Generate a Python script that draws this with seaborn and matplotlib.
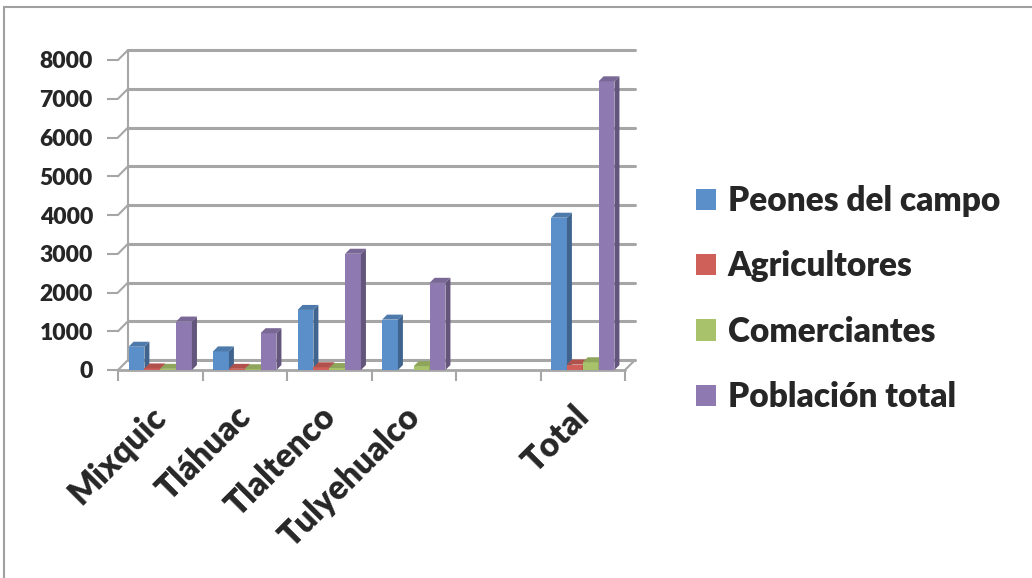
import numpy as np
import pandas as pd
import matplotlib
matplotlib.use('Agg')
import matplotlib.pyplot as plt
from matplotlib.patches import Polygon, Rectangle, Patch
from matplotlib.transforms import ScaledTranslation
import matplotlib.colors as mcolors
import seaborn as sns

# Datos
delegaciones = ['Mixquic', 'Tláhuac', 'Tlaltenco', 'Tulyehualco', '', 'Total']
peones = [600, 480, 1550, 1300, np.nan, 3930]
agricultores = [40, 30, 70, 0, np.nan, 140]
comerciantes = [30, 20, 50, 100, np.nan, 200]
poblacion = [1250, 950, 3000, 2250, np.nan, 7450]
series = ['Peones del campo', 'Agricultores', 'Comerciantes', 'Población total']
colores = ['#5B8FC9', '#CF5F59', '#A7C26B', '#8E79B1']
yticks = [0, 1000, 2000, 3000, 4000, 5000, 6000, 7000, 8000]

df = pd.DataFrame({
    'Delegación': delegaciones * 4,
    'Ocupación': np.repeat(series, len(delegaciones)),
    'Personas': peones + agricultores + comerciantes + poblacion,
}).dropna()

sns.set_style('white')
plt.rcParams['font.family'] = ['Lato', 'DejaVu Sans']
plt.rcParams['font.weight'] = 'bold'

W, H = 1032, 578
fig = plt.figure(figsize=(W / 100, H / 100), dpi=100)
ax = fig.add_axes([118 / W, 1 - 370 / H, (625 - 118) / W, (370 - 60) / H])

sns.barplot(data=df, x='Delegación', y='Personas', hue='Ocupación',
            order=delegaciones, hue_order=series, palette=colores,
            width=0.75, saturation=1, legend=False, ax=ax, zorder=5,
            linewidth=0, edgecolor='none')

ax.set_xlim(-0.5, len(delegaciones) - 0.5)
ax.set_ylim(0, 8000)
ax.set_xlabel('')
ax.set_ylabel('')
for s in ax.spines.values():
    s.set_visible(False)

# conversion pixeles -> datos para el efecto 3D
ax_w = (625 - 118)
ax_h = (370 - 60)
px_x = len(delegaciones) / ax_w
px_y = 8000 / ax_h
gris = '#A6A6A6'

# pared del fondo (cuadricula desplazada)
gx, gy = 10 * px_x, 10 * px_y
x0, x1 = -0.5, len(delegaciones) - 0.5
for v in yticks:
    ax.plot([x0 + gx, x1 + gx], [v + gy, v + gy], color=gris, lw=2.2, zorder=1, clip_on=False)
    ax.plot([x0, x0 + gx], [v, v + gy], color=gris, lw=1.5, zorder=1, clip_on=False)
ax.plot([x0 + gx, x0 + gx], [gy, 8000 + gy], color=gris, lw=1.5, zorder=1, clip_on=False)
ax.plot([x0, x1], [0, 0], color=gris, lw=2, zorder=2, clip_on=False)
ax.plot([x1, x1 + gx], [0, gy], color=gris, lw=1.5, zorder=2, clip_on=False)

# caras laterales y superiores de las columnas
dx, dy = 5 * px_x, 5 * px_y
for i, bar in enumerate(ax.patches):
    bx, bw, bh = bar.get_x(), bar.get_width(), bar.get_height()
    if np.isnan(bh) or bh <= 0:
        continue
    c = np.array(mcolors.to_rgb(bar.get_facecolor()))
    z = 5 + 0.01 * i
    side = Polygon([(bx + bw, 0), (bx + bw + dx, dy), (bx + bw + dx, bh + dy), (bx + bw, bh)],
                   closed=True, facecolor=c * 0.7, edgecolor='none', zorder=z)
    top = Polygon([(bx, bh), (bx + dx, bh + dy), (bx + bw + dx, bh + dy), (bx + bw, bh)],
                  closed=True, facecolor=c * 0.85, edgecolor='none', zorder=z)
    ax.add_patch(side)
    ax.add_patch(top)
    bar.set_zorder(z)

# ejes y etiquetas
ax.set_yticks(yticks)
ax.set_yticklabels([str(v) for v in yticks], fontsize=16.5, fontweight='heavy')
ax.tick_params(axis='y', length=8, width=1.5, color=gris, pad=10, left=True)
ax.set_xticks(range(len(delegaciones)))
ax.set_xticklabels(delegaciones, fontsize=24, fontweight='heavy', rotation=45,
                   ha='right', va='center', rotation_mode='anchor')
ax.set_xticks(np.arange(-0.5, len(delegaciones)), minor=True)
ax.tick_params(axis='x', which='major', length=0, pad=30)
ax.tick_params(axis='x', which='minor', length=8, width=1.5, color=gris, bottom=True)
off = ScaledTranslation(0.01, 0, fig.dpi_scale_trans)
for lab in ax.get_xticklabels():
    lab.set_transform(lab.get_transform() + off)

# leyenda
handles = [Patch(facecolor=c, edgecolor='none') for c in colores]
fig.legend(handles, series, loc='upper left', bbox_to_anchor=(666 / W, 1 - 155 / H),
           frameon=False, prop={'size': 24, 'weight': 'heavy'},
           handlelength=0.6, handleheight=0.6, handletextpad=0.35, labelspacing=1.0)

# marco del grafico
fig.patches.append(Rectangle((4 / W, -0.1), 1.2, 1 - 7 / H + 0.1, transform=fig.transFigure,
                             fill=False, edgecolor='#A0A0A0', lw=1.5))

fig.savefig('out.png', dpi=100)
